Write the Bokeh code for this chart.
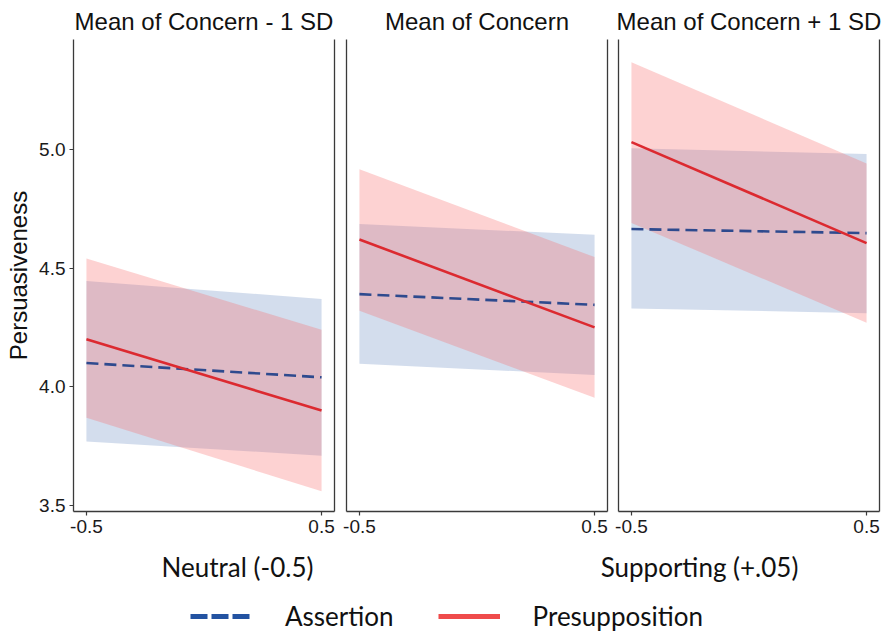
from bokeh.plotting import figure
from bokeh.models import (Range1d, LinearAxis, FixedTicker, Title, Label, Legend,
                          LegendItem, ColumnDataSource)
from bokeh.layouts import column, row
from bokeh.embed import file_html
from bokeh.resources import INLINE

# ---------------- data ----------------
x_vals = [-0.5, 0.5]
panel_titles = ["Mean of Concern - 1 SD", "Mean of Concern", "Mean of Concern + 1 SD"]

assert_fit = [[4.10, 4.04], [4.39, 4.345], [4.664, 4.647]]
assert_lo = [[3.77, 3.71], [4.097, 4.05], [4.33, 4.31]]
assert_hi = [[4.445, 4.37], [4.685, 4.64], [5.004, 4.98]]

presup_fit = [[4.20, 3.90], [4.62, 4.25], [5.03, 4.605]]
presup_lo = [[3.87, 3.56], [4.32, 3.954], [4.69, 4.27]]
presup_hi = [[4.54, 4.24], [4.916, 4.546], [5.366, 4.94]]

x_ticks = [-0.5, 0.5]
x_tick_labels = ["-0.5", "0.5"]
y_ticks = [3.5, 4.0, 4.5, 5.0]
y_tick_labels = ["3.5", "4.0", "4.5", "5.0"]

y_title = "Persuasiveness"
x_titles = ["Neutral (-0.5)", "Supporting (+.05)"]
series_names = ["Assertion", "Presupposition"]

# ---------------- style ----------------
FONT = "Liberation Sans"
FONT2 = "Lato"
AXIS_COL = "#3a3a3a"
BLUE_FILL = "#2255a4"
RED_FILL = "#f8696b"
BLUE_LINE = "#2e4a8e"
RED_LINE = "#dc2a30"
FRAME_W = 261
FIG_H = 543
LEFTS = [73, 6, 6]
RIGHTS = [6, 5, 5]


def make_panel(i):
    first = i == 0
    p = figure(width=LEFTS[i] + FRAME_W + RIGHTS[i], height=FIG_H,
               x_range=Range1d(-0.555, 0.555), y_range=Range1d(3.475, 5.462),
               output_backend="svg", toolbar_location=None,
               x_axis_location=None, y_axis_location=None,
               min_border_left=LEFTS[i], min_border_right=RIGHTS[i],
               min_border_top=38, min_border_bottom=32)
    p.outline_line_color = None
    p.grid.visible = False
    p.background_fill_color = "white"

    t = Title(text=panel_titles[i], align="center", text_font=FONT,
              text_font_size="24px", text_font_style="normal",
              text_color="#111111", standoff=10, offset=0)
    p.add_layout(t, "above")

    # bottom axis
    xa = LinearAxis(ticker=FixedTicker(ticks=x_ticks),
                    major_label_overrides={k: v for k, v in zip(x_ticks, x_tick_labels)},
                    axis_line_color=AXIS_COL, axis_line_width=1.3,
                    major_tick_line_color=AXIS_COL, major_tick_line_width=1.2,
                    major_tick_in=0, major_tick_out=4, minor_tick_line_color=None,
                    major_label_text_font=FONT, major_label_text_font_size="19px",
                    major_label_text_color="#1a1a1a", major_label_standoff=4)
    p.add_layout(xa, "below")

    # left axis
    if first:
        ya = LinearAxis(ticker=FixedTicker(ticks=y_ticks),
                        major_label_overrides={k: v for k, v in zip(y_ticks, y_tick_labels)},
                        axis_line_color=AXIS_COL, axis_line_width=1.3,
                        major_tick_line_color=AXIS_COL, major_tick_line_width=1.2,
                        major_tick_in=0, major_tick_out=4, minor_tick_line_color=None,
                        major_label_text_font=FONT, major_label_text_font_size="19px",
                        major_label_text_color="#1a1a1a", major_label_standoff=4,
                        axis_label=y_title, axis_label_text_font=FONT,
                        axis_label_text_font_size="24px",
                        axis_label_text_font_style="normal",
                        axis_label_text_color="#111111", axis_label_standoff=4)
    else:
        ya = LinearAxis(ticker=FixedTicker(ticks=[]), axis_line_color=AXIS_COL,
                        axis_line_width=1.3, major_tick_line_color=None,
                        major_tick_out=0, major_tick_in=0, minor_tick_line_color=None,
                        major_label_text_font_size="0px", major_label_standoff=0)
    p.add_layout(ya, "left")

    # right border line
    ra = LinearAxis(ticker=FixedTicker(ticks=[]), axis_line_color=AXIS_COL,
                    axis_line_width=1.3, major_tick_line_color=None,
                    major_tick_out=0, major_tick_in=0, minor_tick_line_color=None,
                    major_label_text_font_size="0px", major_label_standoff=0)
    p.add_layout(ra, "right")

    src = ColumnDataSource(dict(x=x_vals,
                                a_fit=assert_fit[i], a_lo=assert_lo[i], a_hi=assert_hi[i],
                                p_fit=presup_fit[i], p_lo=presup_lo[i], p_hi=presup_hi[i]))
    p.varea(x="x", y1="a_lo", y2="a_hi", source=src, fill_color=BLUE_FILL, fill_alpha=0.2)
    p.varea(x="x", y1="p_lo", y2="p_hi", source=src, fill_color=RED_FILL, fill_alpha=0.3)
    p.line(x="x", y="a_fit", source=src, line_color=BLUE_LINE, line_width=2.6,
           line_dash="12 6")
    p.line(x="x", y="p_fit", source=src, line_color=RED_LINE, line_width=2.6)
    return p


panels = [make_panel(i) for i in range(3)]

# ---------------- bottom strip: x titles + legend ----------------
BW = sum(pp.width for pp in panels)
BH = 632 - FIG_H
b = figure(width=BW, height=BH, x_range=Range1d(0, BW), y_range=Range1d(0, BH),
           output_backend="svg", toolbar_location=None,
           x_axis_location=None, y_axis_location=None, min_border=0)
b.outline_line_color = None
b.grid.visible = False

b.add_layout(Label(x=237, y=BH - 23, text=x_titles[0], text_align="center",
                   text_baseline="middle", text_font=FONT2, text_font_size="26px",
                   text_color="#111111"))
b.add_layout(Label(x=699, y=BH - 23, text=x_titles[1], text_align="center",
                   text_baseline="middle", text_font=FONT2, text_font_size="26px",
                   text_color="#111111"))

nan = float("nan")
dummy = ColumnDataSource(dict(x=[nan], y=[nan]))
r_a = b.line(x="x", y="y", source=dummy, line_color="#2353a1", line_width=5,
             line_dash="17 4")
r_p = b.line(x="x", y="y", source=dummy, line_color="#ef4b4b", line_width=5)
leg = Legend(items=[LegendItem(label=series_names[0], renderers=[r_a]),
                    LegendItem(label=series_names[1], renderers=[r_p])],
             orientation="horizontal", location=(190, 0),
             glyph_width=62, glyph_height=26, label_height=26,
             label_standoff=33, spacing=44, padding=0, margin=0,
             label_text_font=FONT2, label_text_font_size="26px",
             label_text_color="#111111",
             border_line_color=None, background_fill_alpha=0)
b.add_layout(leg, "center")

layout = column(row(*panels), b)

open("out.html", "w").write(file_html(layout, INLINE))
